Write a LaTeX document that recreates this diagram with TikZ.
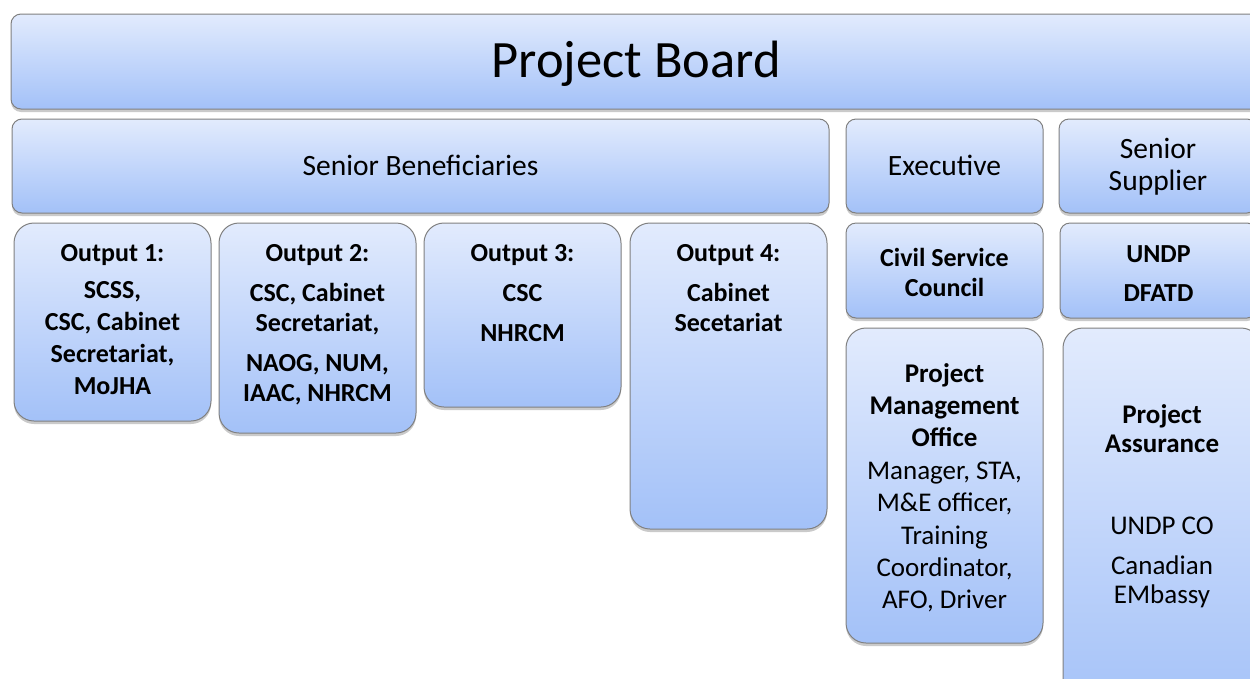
\documentclass[tikz,border=0pt]{standalone}
\usepackage{fontspec}
\setmainfont{Carlito}
\usetikzlibrary{calc,shadows}
\definecolor{boxtop}{RGB}{226,235,253}
\definecolor{boxbot}{RGB}{163,193,248}
\definecolor{boxline}{RGB}{128,128,128}
\tikzset{
  box/.style={draw=boxline, line width=1pt, top color=boxtop, bottom color=boxbot,
    inner sep=0pt, outer sep=0pt, anchor=north west,
    drop shadow={shadow xshift=0pt, shadow yshift=-3pt, opacity=0.35, fill=black!60}},
  smallr/.style={rounded corners=10pt},
  bigr/.style={rounded corners=20pt},
  txt/.style={inner sep=0pt, align=center, text=black},
  hdr/.style={font={\fontsize{29.5}{32}\selectfont}},
}
\newcommand{\boxat}[6]{% name, style, x1, y1, x2, y2
  \node[box,#2, minimum width={(#5-#3)*1pt}, minimum height={(#6-#4)*1pt}] (#1) at (#3,#4) {};}
\begin{document}
\begin{tikzpicture}[x=1pt,y=-1pt]
\useasboundingbox (0,0) rectangle (1250,678);
\clip (0,0) rectangle (1250,678);
% boxes
\boxat{pb}{smallr}{11}{14}{1261}{109}
\boxat{sb}{smallr}{12}{119}{829}{213}
\boxat{ex}{smallr}{846}{119}{1043}{213}
\boxat{ss}{smallr}{1059}{119}{1257}{213}
\boxat{oa}{bigr}{14}{223}{211}{421}
\boxat{ob}{bigr}{219}{223}{416}{433}
\boxat{oc}{bigr}{424}{223}{621}{407}
\boxat{od}{bigr}{630}{223}{827}{529}
\boxat{csc}{smallr}{846}{223}{1043}{318}
\boxat{undp}{smallr}{1060}{223}{1257}{318}
\boxat{pmo}{bigr}{846}{328}{1043}{643}
\boxat{pa}{bigr}{1063}{328}{1261}{720}
% texts
\node[txt, anchor=base, font={\fontsize{52.5}{60}\selectfont}] (pbt) at (pb.center |- 0,77) {Project Board};
\node[txt, hdr, anchor=base] (sbt) at (sb.center |- 0,175) {Senior Beneficiaries};
\node[txt, hdr, anchor=base] (ext) at (ex.center |- 0,175) {Executive};
\node[txt, hdr] (sst) at ($(ss.center)+(0,1)$) {Senior\\Supplier};
\node[txt, anchor=north, font={\bfseries\fontsize{26}{32}\selectfont}] (oat) at ($(oa.north)+(0,21.5)$) {Output 1:\\[5pt]SCSS,\\CSC, Cabinet\\Secretariat,\\MoJHA};
\node[txt, anchor=north, font={\bfseries\fontsize{26}{30}\selectfont}] (obt) at ($(ob.north)+(0,21.5)$) {Output 2:\\[10pt]CSC, Cabinet\\Secretariat,\\[10pt]NAOG, NUM,\\IAAC, NHRCM};
\node[txt, anchor=north, font={\bfseries\fontsize{26}{30}\selectfont}] (oct) at ($(oc.north)+(0,21.5)$) {Output 3:\\[10pt]CSC\\[10pt]NHRCM};
\node[txt, anchor=north, font={\bfseries\fontsize{26}{30}\selectfont}] (odt) at ($(od.north)+(0,21.5)$) {Output 4:\\[10pt]Cabinet\\Secetariat};
\node[txt, font={\bfseries\fontsize{26}{30}\selectfont}] (csct) at ($(csc.center)+(0,2)$) {Civil Service\\Council};
\node[txt, font={\bfseries\fontsize{26}{39}\selectfont}] (undpt) at ($(undp.center)+(0,3)$) {UNDP\\DFATD};
\node[txt, anchor=north, font={\fontsize{27}{32.4}\selectfont}] (pmot) at ($(pmo.north)+(0,35)$) {\textbf{Project}\\\textbf{Management}\\\textbf{Office}\\Manager, STA,\\M\&E officer,\\Training\\Coordinator,\\AFO, Driver};
\node[txt, anchor=north, font={\fontsize{27}{29}\selectfont}] (pat) at ($(pa.north)+(0,76)$) {\textbf{Project}\\\textbf{Assurance}\\[53pt]UNDP CO\\[11pt]Canadian\\EMbassy};
\end{tikzpicture}
\end{document}
